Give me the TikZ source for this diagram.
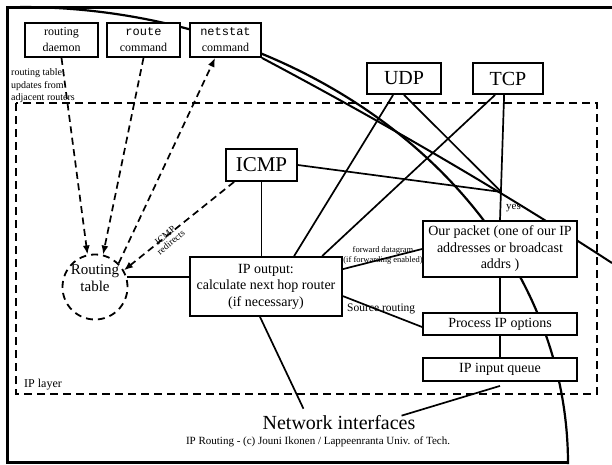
\documentclass[tikz,border=0pt]{standalone}
\usepackage{fontspec}
\setmainfont{Liberation Serif}
\setmonofont{Liberation Mono}
\usetikzlibrary{arrows.meta,calc}
\pgfdeclarelayer{bg}
\pgfsetlayers{bg,main}
\begin{document}
\begin{tikzpicture}[x=1pt,y=-1pt,
  box/.style={draw,line width=1.8pt,fill=white,inner sep=0pt,align=center},
  sm/.style={font=\fontsize{12}{16}\selectfont},
  big/.style={font=\fontsize{20}{24}\selectfont},
  mid/.style={font=\fontsize{14}{16.5}\selectfont},
  conn/.style={line width=1.7pt},
  dconn/.style={line width=1.7pt,dash pattern=on 7pt off 4.5pt},
  tip/.style={-{Latex[length=9pt,width=7pt]}},
  ipdash/.style={line width=2pt,dash pattern=on 8pt off 5pt},
]
\useasboundingbox (0,0) rectangle (612,464);

% nodes
\node[box,sm,minimum width=73pt,minimum height=34pt] (daemon) at (61.5,40) {routing\\daemon};
\node[box,sm,minimum width=73pt,minimum height=34pt] (route) at (143.5,40) {\texttt{route}\\command};
\node[box,sm,minimum width=71pt,minimum height=34pt] (netstat) at (225.5,40) {\texttt{netstat}\\command};
\node[box,big,minimum width=74pt,minimum height=31pt] (udp) at (404,78.5) {UDP};
\node[box,big,minimum width=70pt,minimum height=31pt] (tcp) at (508,78.5) {TCP};
\node[box,font=\fontsize{21}{24}\selectfont,minimum width=71pt,minimum height=32pt] (icmp) at (261.5,165) {ICMP};
\node[box,mid,minimum width=152pt,minimum height=59pt] (ipout) at (266,286.5) {IP output:\\calculate next hop router\\(if necessary)};
\node[box,mid,minimum width=154pt,minimum height=56pt] (ours) at (500,249) {Our packet (one of our IP\\addresses or broadcast\\addrs )};
\node[box,mid,minimum width=154pt,minimum height=22pt] (procopt) at (500,324) {Process IP options};
\node[box,mid,minimum width=154pt,minimum height=23pt] (inq) at (500,369.5) {IP input queue};
\node[draw,circle,fill=white,line width=1.8pt,dash pattern=on 7pt off 5pt,minimum size=65pt,inner sep=0pt] (rt) at (95,287) {};
\node[font=\fontsize{15}{17}\selectfont,align=center,inner sep=0pt] (rtt) at (95,278) {Routing\\table};

% labels
\node[font=\fontsize{10}{12.5}\selectfont,align=left,anchor=west,inner sep=0pt] (upd) at (11,86) {routing table\\updates from\\adjacent routers};
\node[font=\fontsize{12}{14}\selectfont,anchor=west,inner sep=0pt] (ipl) at (24,385) {IP layer};
\node[big,inner sep=0pt] (netif) at (339,423) {Network interfaces};
\node[font=\fontsize{11}{14}\selectfont,inner sep=0pt] (cred) at (318,442) {IP Routing - (c) Jouni Ikonen / Lappeenranta Univ. of Tech.};
\node[font=\fontsize{8.5}{10.5}\selectfont,align=center,inner sep=0pt] (fwd) at (383,255.5) {forward datagram\\(if forwarding enabled)};
\node[font=\fontsize{11.5}{14}\selectfont,anchor=west,inner sep=0pt] (srcr) at (347,309) {Source routing};
\node[font=\fontsize{11}{13}\selectfont,anchor=west,inner sep=0pt] (yesl) at (506,208) {yes};
\node[font=\fontsize{9.5}{9}\selectfont,align=center,rotate=39,inner sep=0pt] (icr) at (168,239) {ICMP\\redirects};

\coordinate (yes) at (501.4,192);

\begin{pgfonlayer}{bg}
  % frame and decorative curves
  \draw[line width=3pt] (612,7) -- (7,7) -- (7,462) -- (568,462);
  \draw[line width=2.2pt] (568,464) arc[start angle=0,end angle=90,x radius=548pt,y radius=457pt];
  \draw[line width=2pt] (netstat.south east) .. controls (379,120) and (500,190) .. (612,263);
  % IP layer
  \draw[ipdash] (16,103) rectangle (597,394);
  % connectors
  \draw[conn] ($(udp.south west)+(27,0)$) -- ($(ipout.north west)+(105,0)$);
  \draw[conn] (udp.south) -- (yes);
  \draw[conn] ($(tcp.south west)+(23,0)$) -- ($(ipout.north west)+(133,0)$);
  \draw[conn] ($(tcp.south west)+(32,0)$) -- (ours.north);
  \draw[conn] (icmp.east) -- (yes);
  \draw[conn] (icmp.south) -- (icmp.south |- ipout.north);
  \draw[dconn,tip] ($(icmp.south west)+(9,0)$) -- (rt.30);
  \draw[conn] (rt.17) -- (rt.17 -| ipout.west);
  \draw[conn] ($(ipout.north east)+(0,13)$) -- (ours.west);
  \draw[conn] ($(ipout.north east)+(0,40)$) -- ($(procopt.west)+(0,3)$);
  \draw[conn] (ours.south) -- (procopt.north);
  \draw[conn] (procopt.south) -- (inq.north);
  \draw[conn] ($(inq.south)+(0,4)$) -- ($(netif.north east)+(-14,0)$);
  \draw[conn] ($(ipout.south)+(-6,0)$) -- ($(netif.north west)+(41,-7)$);
  \draw[dconn,tip] (daemon.south) -- (rt.103);
  \draw[dconn,tip] (route.south) -- (rt.76);
  \draw[dconn,tip] (rt.45) -- ($(netstat.south west)+(26,0)$);
\end{pgfonlayer}
\end{tikzpicture}
\end{document}
